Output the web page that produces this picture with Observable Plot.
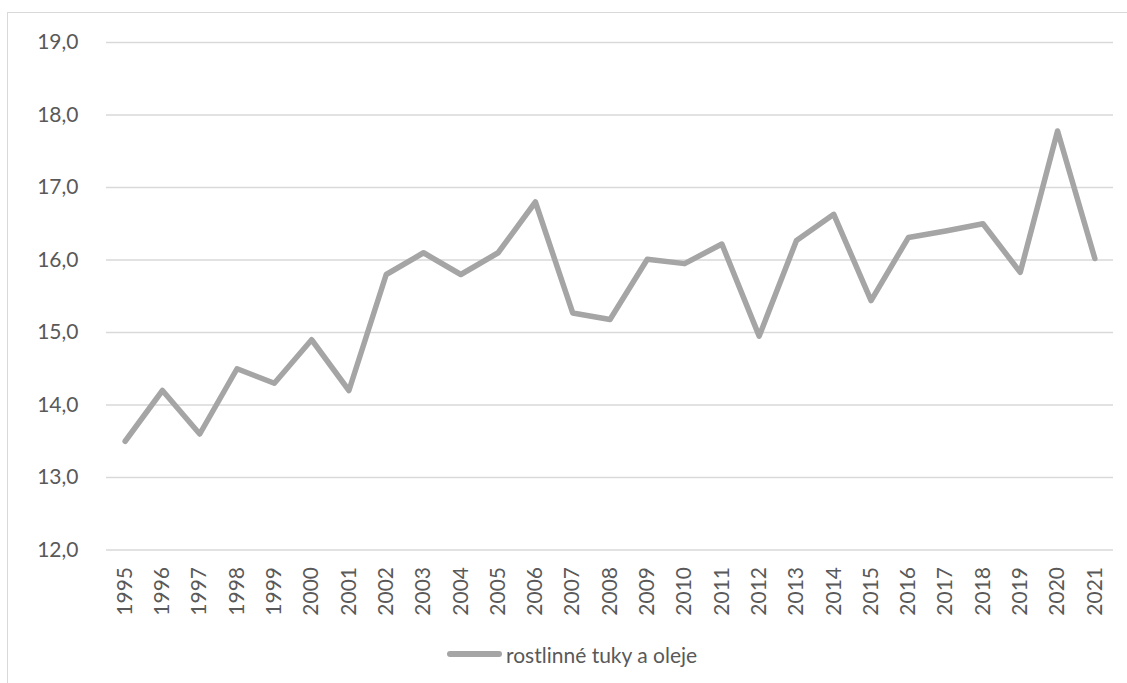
<!DOCTYPE html>
<html>
<head>
<meta charset="utf-8">
<script src="https://cdn.jsdelivr.net/npm/d3@7"></script>
<script src="https://cdn.jsdelivr.net/npm/@observablehq/plot@0.6"></script>
<style>
  html, body { margin: 0; padding: 0; background: #fff; }
  #wrap { position: relative; width: 1127px; height: 683px; overflow: hidden; font-family: Lato, "Open Sans", sans-serif; }
  #frame { position: absolute; left: 7px; top: 12px; width: 1200px; height: 800px; border-left: 1.5px solid #d9d9d9; border-top: 1.5px solid #d9d9d9; pointer-events: none; }
  #chart { position: absolute; left: 0; top: 0; }
  #legend { position: absolute; left: 0; top: 630px; width: 1127px; height: 48px; display: flex; align-items: center; }
  #legend .sw { margin-left: 447px; width: 55px; height: 6px; border-radius: 3px; background: #a5a5a5; }
  #legend .lb { margin-left: 4px; font-size: 21px; color: #595959; }
</style>
</head>
<body>
<div id="wrap">
  <div id="frame"></div>
  <div id="chart"></div>
  <div id="legend"><div class="sw"></div><div class="lb" id="lbl"></div></div>
</div>
<script>
const years = ["1995","1996","1997","1998","1999","2000","2001","2002","2003","2004","2005","2006","2007","2008","2009","2010","2011","2012","2013","2014","2015","2016","2017","2018","2019","2020","2021"];
const values = [13.5,14.2,13.6,14.5,14.3,14.9,14.2,15.8,16.1,15.8,16.1,16.8,15.27,15.18,16.01,15.95,16.22,14.95,16.27,16.63,15.44,16.31,16.4,16.5,15.83,17.78,16.02];
const yTicks = [12,13,14,15,16,17,18,19];
const seriesName = "rostlinné tuky a oleje";

const data = years.map((y, i) => ({year: y, value: values[i]}));
const fmt = v => d3.format(".1f")(v).replace(".", ",");

const chart = Plot.plot({
  width: 1127,
  height: 630,
  marginLeft: 106,
  marginRight: 14,
  marginTop: 42,
  marginBottom: 80.5,
  style: {fontFamily: "Lato, 'Open Sans', sans-serif", fontSize: "21px", color: "#595959", background: "transparent", overflow: "visible"},
  x: {type: "point", domain: years, padding: 0.5, round: false, label: null},
  y: {domain: [12, 19], label: null},
  marks: [
    Plot.gridY(yTicks, {stroke: "#d9d9d9", strokeOpacity: 1, strokeWidth: 1.5}),
    Plot.axisY(yTicks, {tickSize: 0, tickPadding: 28, tickFormat: fmt, fill: "#595959", fontSize: 21, label: null}),
    Plot.axisX({tickSize: 0, tickPadding: 17, tickRotate: -90, fill: "#595959", fontSize: 21, label: null}),
    Plot.line(data, {x: "year", y: "value", stroke: "#a5a5a5", strokeWidth: 5.5, strokeLinejoin: "round", strokeLinecap: "round"})
  ]
});
document.getElementById("chart").appendChild(chart);
document.getElementById("lbl").textContent = seriesName;
</script>
</body>
</html>
